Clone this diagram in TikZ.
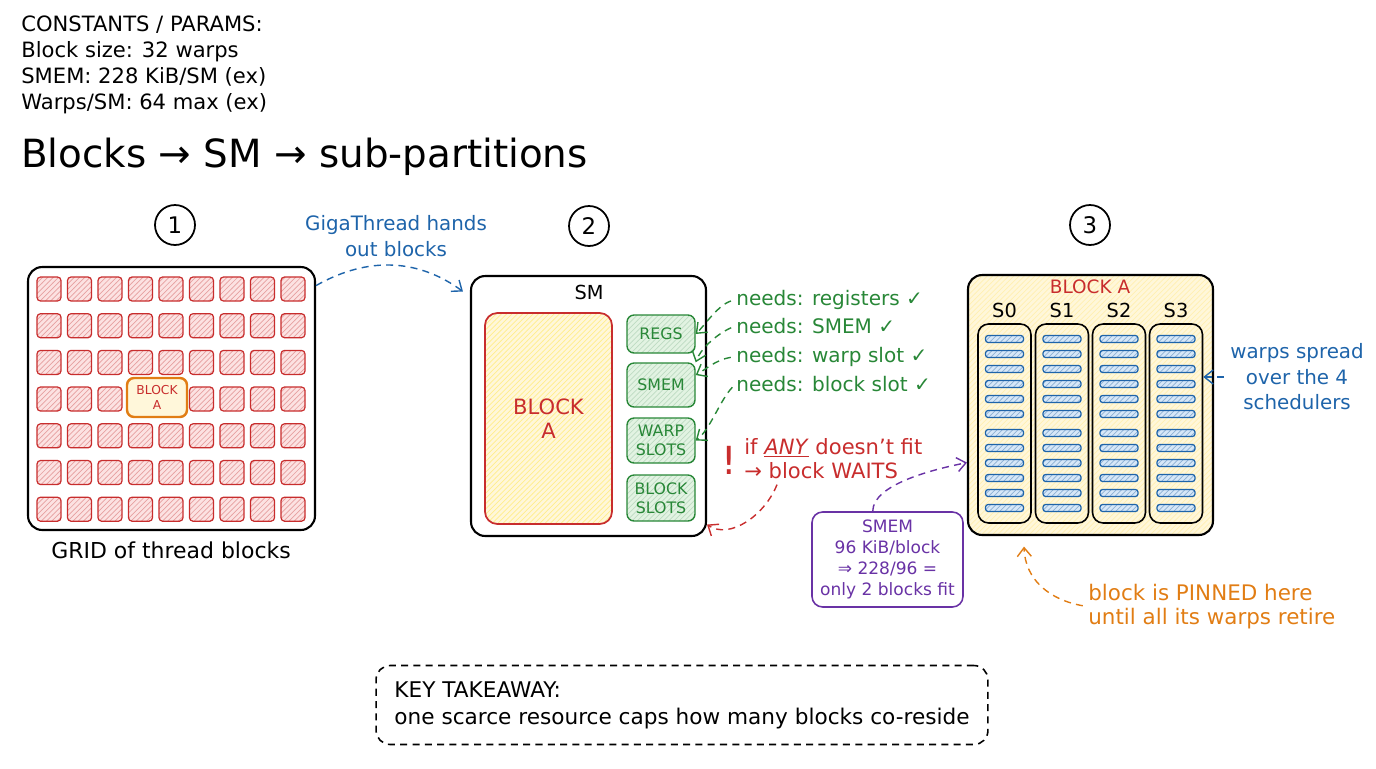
\documentclass[tikz,border=0pt]{standalone}
\usepackage{fontspec}
\setmainfont{DejaVu Sans}
\usetikzlibrary{arrows.meta,patterns}
\definecolor{inkred}{RGB}{200,45,45}
\definecolor{inkgreen}{RGB}{40,135,55}
\definecolor{inkblue}{RGB}{30,100,170}
\definecolor{inkpurple}{RGB}{105,50,165}
\definecolor{inkorange}{RGB}{225,125,20}
\definecolor{palered}{RGB}{252,226,226}
\definecolor{paleyellow}{RGB}{255,247,218}
\definecolor{palegreen}{RGB}{226,243,226}
\definecolor{paleblue}{RGB}{214,231,248}
\tikzset{
  panel/.style={draw, line width=1.2pt, rounded corners=8pt, inner sep=0pt},
  gcell/.style={draw=inkred, line width=0.7pt, rounded corners=2pt, preaction={fill=palered},
    pattern=north east lines, pattern color=inkred!45, minimum width=0.48cm, minimum height=0.48cm, inner sep=0pt},
  resbox/.style={draw=inkgreen, line width=0.8pt, rounded corners=4pt, preaction={fill=palegreen},
    pattern=north east lines, pattern color=inkgreen!30, minimum width=1.36cm, inner sep=0pt,
    text=inkgreen, align=center, font=\fontsize{9}{11}\selectfont},
  warpbar/.style={draw=inkblue, line width=0.7pt, rounded corners=1.5pt, preaction={fill=paleblue},
    pattern=north east lines, pattern color=inkblue!50, minimum width=0.76cm, minimum height=0.14cm, inner sep=0pt},
  sched/.style={draw, line width=0.9pt, rounded corners=6pt, minimum width=1.06cm, minimum height=3.98cm, inner sep=0pt},
  stepnum/.style={draw, circle, line width=1pt, minimum size=0.8cm, inner sep=0pt, font=\fontsize{13}{13}\selectfont},
  note/.style={align=left, inner sep=0pt},
  hand/.style={dash pattern=on 4pt off 3pt, line width=0.8pt, -{Straight Barb[length=5pt,width=8pt]}},
}
\begin{document}
\begin{tikzpicture}[x=0.02cm,y=-0.02cm]
\useasboundingbox (0,0) rectangle (1376,768);
\node[note, anchor=north west, font=\fontsize{12}{14.9}\selectfont] (params) at (21,15)
  {CONSTANTS / PARAMS:\\Block size: 32 warps\\SMEM: 228 KiB/SM (ex)\\Warps/SM: 64 max (ex)};
\node[anchor=base west, inner sep=0pt, font=\fontsize{22.1}{26}\selectfont] (title) at (21,167)
  {Blocks → SM → sub-partitions};
\node[stepnum] (one) at (175,225) {1};
\node[stepnum] (two) at (589,226) {2};
\node[stepnum] (three) at (1090,225) {3};
% grid of blocks
\node[panel, minimum width=5.74cm, minimum height=5.26cm] (grid) at (171.5,398.5) {};
\foreach \j in {0,1,2,4,5,6}
  \foreach \i in {0,...,8}
    \node[gcell] at ({49+30.5*\i},{289+36.7*\j}) {};
\foreach \i in {0,1,2,5,6,7,8}
  \node[gcell] at ({49+30.5*\i},399) {};
\node[draw=inkorange, line width=1.4pt, rounded corners=4pt, fill=paleyellow, minimum width=1.2cm,
  minimum height=0.78cm, inner sep=0pt, text=inkred, align=center, font=\fontsize{7}{9}\selectfont]
  (blocka) at (157,397.5) {BLOCK\\A};
\node[anchor=base, inner sep=0pt, font=\fontsize{12.5}{14}\selectfont] (gridlabel) at (171,558) {GRID of thread blocks};
\node[text=inkblue, align=center, font=\fontsize{11.3}{14.7}\selectfont] (giga) at (396,236) {GigaThread hands\\out blocks};
% SM
\node[panel, minimum width=4.7cm, minimum height=5.2cm] (sm) at (588.5,406) {};
\node[font=\fontsize{11}{12}\selectfont] (smlabel) at (589,292) {SM};
\node[draw=inkred, line width=1pt, rounded corners=7pt, preaction={fill=paleyellow}, pattern=north east lines,
  pattern color=yellow!70!orange!45, minimum width=2.54cm, minimum height=4.22cm, inner sep=0pt,
  text=inkred, align=center, font=\fontsize{12}{14}\selectfont] (blockbig) at (548.5,418.5) {BLOCK\\A};
\node[resbox, minimum height=0.76cm] (regs) at (661,334) {REGS};
\node[resbox, minimum height=0.88cm] (smem) at (661,385) {SMEM};
\node[resbox, minimum height=0.9cm] (warp) at (661,440.5) {WARP\\SLOTS};
\node[resbox, minimum height=0.92cm] (bslot) at (661,498) {BLOCK\\SLOTS};
\node[note, anchor=base west, text=inkgreen, font=\fontsize{11.4}{13}\selectfont] (needreg) at (736,305) {needs: registers ✓};
\node[note, anchor=base west, text=inkgreen, font=\fontsize{11.4}{13}\selectfont] (needsmem) at (736,333) {needs: SMEM ✓};
\node[note, anchor=base west, text=inkgreen, font=\fontsize{11.4}{13}\selectfont] (needwarp) at (736,362) {needs: warp slot ✓};
\node[note, anchor=base west, text=inkgreen, font=\fontsize{11.4}{13}\selectfont] (needblock) at (736,391) {needs: block slot ✓};
\node[text=inkred, font=\fontsize{22}{22}\selectfont] (bang) at (729,460) {!};
\node[note, anchor=north west, text=inkred, font=\fontsize{12}{14}\selectfont] (nofit) at (744,438)
  {if \underline{\textit{ANY}} doesn't fit\\→ block WAITS};
% block A on the SM
\node[panel, preaction={fill=paleyellow}, pattern=north east lines, pattern color=yellow!60!orange!30,
  minimum width=4.9cm, minimum height=5.2cm] (blk3) at (1090.5,405) {};
\node[text=inkred, font=\fontsize{10.5}{12}\selectfont] (blk3title) at (1090,287) {BLOCK A};
\foreach \c/\cx in {0/1004.5,1/1062,2/1119,3/1176} {
  \node[sched] (col\c) at (\cx,423.5) {};
  \node[font=\fontsize{11}{12}\selectfont] (slab\c) at (\cx,310) {S\c};
  \foreach \k in {0,...,5} {
    \node[warpbar] at (\cx,{339+15*\k}) {};
    \node[warpbar] at (\cx,{433+15*\k}) {};
  }
}
\node[text=inkblue, align=center, font=\fontsize{11.3}{14.5}\selectfont] (spread) at (1297,377)
  {warps spread\\over the 4\\schedulers};
\node[draw=inkpurple, line width=0.9pt, rounded corners=6pt, minimum width=3.02cm, minimum height=1.9cm,
  inner sep=0pt, text=inkpurple, align=center, font=\fontsize{9.7}{12.1}\selectfont] (smemfit) at (887.5,559.5)
  {SMEM\\96 KiB/block\\⇒ 228/96 =\\only 2 blocks fit};
\node[note, anchor=north west, text=inkorange, font=\fontsize{12.2}{13.6}\selectfont] (pinned) at (1088,584)
  {block is PINNED here\\until all its warps retire};
\node[draw, dash pattern=on 4pt off 3pt, line width=0.9pt, rounded corners=8pt, minimum width=12.24cm,
  minimum height=1.58cm, inner sep=0pt, align=left, font=\fontsize{12.3}{15.3}\selectfont]
  (takeaway) at (682,705) {KEY TAKEAWAY:\\one scarce resource caps how many blocks co-reside};
% connectors
\draw[hand, inkblue] (grid.38) .. controls (370,255) and (420,260) .. ([xshift=-4pt]sm.136);
\draw[hand, inkgreen, shorten <=3pt] (needreg.west) .. controls (718,305) and (705,325) .. (regs.east);
\draw[hand, inkgreen, shorten <=3pt] (needsmem.west) .. controls (715,335) and (700,350) .. (smem.north east);
\draw[hand, inkgreen, shorten <=3pt] (needwarp.west) .. controls (715,360) and (705,370) .. (smem.16);
\draw[hand, inkgreen, shorten <=3pt] (needblock.west) .. controls (720,400) and (710,430) .. (warp.east);
\draw[hand, inkred] ([xshift=0.66cm,yshift=-0.1cm]nofit.south west) .. controls (765,515) and (730,540) .. (sm.-45);
\draw[hand, inkblue] (spread.west) -- (spread.west -| col3.east);
\draw[hand, inkpurple] (smemfit.107) .. controls (873,485) and (930,470) .. (blk3.205);
\draw[hand, inkorange, shorten <=3pt, shorten >=6pt] (pinned.west) .. controls (1050,600) and (1025,580) .. (blk3.243);
\end{tikzpicture}
\end{document}
